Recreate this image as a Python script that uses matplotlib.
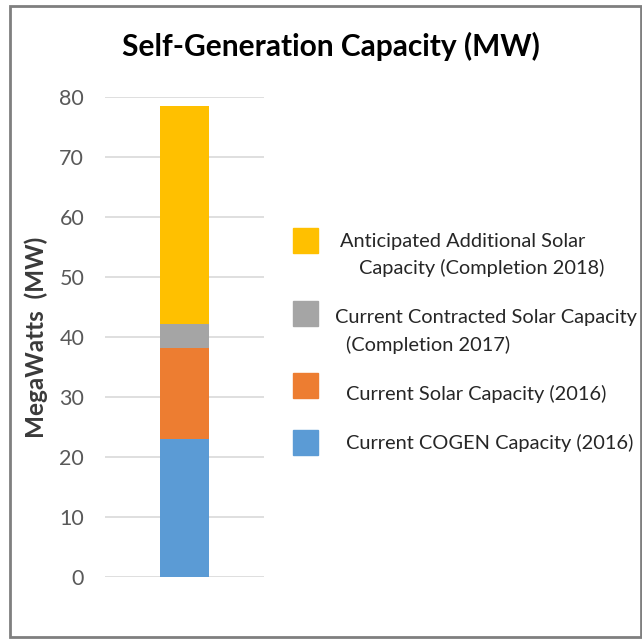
import matplotlib.pyplot as plt
from matplotlib.patches import Rectangle

""" Data"""
categories = ["Total"]
series_names = ["Current COGEN Capacity (2016)",
                "Current Solar Capacity (2016)",
                "Current Contracted Solar Capacity\n(Completion 2017)",
                "Anticipated Additional Solar\nCapacity (Completion 2018)"]
series_values = [[23.0], [15.2], [4.0], [36.3]]
colors = ["#5B9BD5", "#ED7D31", "#A5A5A5", "#FFC000"]
yticks = [0, 10, 20, 30, 40, 50, 60, 70, 80]

""" Layout (pixels) for the hand-placed legend, same order as series"""
leg_patch_y = [442, 385, 313, 240]
leg_line_xy = [[(346, 443)],
               [(346, 394)],
               [(335, 317), (346, 345)],
               [(340, 241), (359, 268)]]

plt.rcParams["font.family"] = ["Lato", "DejaVu Sans"]

W, H = 642, 639
fig = plt.figure(figsize=(W / 100, H / 100), dpi=100)
ax = fig.add_axes([105 / W, 1 - 577 / H, 159 / W, 480 / H])

""" Stacked bar"""
bottom = [0.0] * len(categories)
for name, vals, c in zip(series_names, series_values, colors):
    ax.bar(range(len(categories)), vals, bottom=bottom, width=0.314,
           color=c, label=name, zorder=3)
    bottom = [b0 + v for b0, v in zip(bottom, vals)]

ax.set_xlim(-0.5, 0.5)
ax.set_ylim(0, 80)
ax.set_yticks(yticks)
ax.set_xticks([])
ax.grid(axis="y", color="#D9D9D9", linewidth=1.2, zorder=0)
for s in ax.spines.values():
    s.set_visible(False)
ax.tick_params(axis="y", length=0, labelsize=15.5, labelcolor="#595959", pad=15)
ax.set_ylabel("MegaWatts  (MW)", fontsize=17.5, fontweight="bold", color="#3A3A3A",
              labelpad=8)

fig.text(331 / W, 1 - 46 / H, "Self-Generation Capacity (MW)", fontsize=21.5,
         fontweight="bold", ha="center", va="center", color="black")

""" Legend, top entry = last series"""
for name, c, py, lines in zip(series_names, colors, leg_patch_y, leg_line_xy):
    fig.patches.append(Rectangle((293 / W, 1 - (py + 12.5) / H), 25 / W, 25 / H,
                                 transform=fig.transFigure, color=c))
    for txt, (lx, ly) in zip(name.split("\n"), lines):
        fig.text(lx / W, 1 - ly / H, txt, fontsize=14.4, color="#262626",
                 ha="left", va="center")

""" Outer border"""
fig.patches.append(Rectangle((10 / W, 2 / H), 631 / W, 631 / H,
                             transform=fig.transFigure, fill=False,
                             edgecolor="#7F7F7F", linewidth=2))

fig.savefig("out.png", dpi=100)
